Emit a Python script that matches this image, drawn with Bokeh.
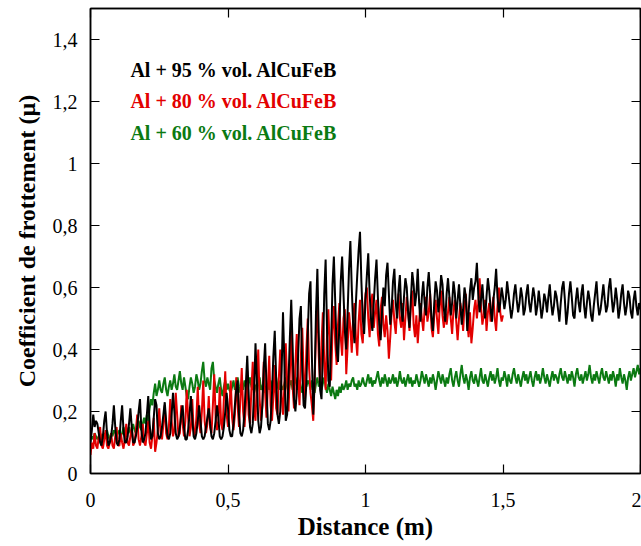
import numpy as np
from bokeh.plotting import figure
from bokeh.models import Range1d, FixedTicker, LinearAxis, Label
from bokeh.embed import file_html
from bokeh.resources import INLINE

# ---- data ----
step = 0.005  # sampling step of distance (m)

# Al + 95 % vol. AlCuFeB (black), 0 .. 2 m
black_al95 = [
    0.10,0.14,0.19,0.15,0.17,0.16,0.13,0.10,0.09,0.12,0.17,0.20,0.13,0.09,0.10,0.12,0.16,0.22,0.15,0.10,
    0.09,0.11,0.17,0.22,0.14,0.10,0.10,0.12,0.16,0.21,0.15,0.10,0.10,0.12,0.15,0.20,0.24,0.14,0.10,0.11,
    0.13,0.19,0.25,0.16,0.11,0.12,0.18,0.24,0.22,0.13,0.11,0.12,0.15,0.19,0.23,0.17,0.12,0.11,0.13,0.19,
    0.26,0.20,0.13,0.11,0.12,0.15,0.19,0.22,0.15,0.11,0.11,0.14,0.19,0.25,0.18,0.12,0.11,0.13,0.17,0.22,
    0.17,0.12,0.11,0.12,0.15,0.18,0.21,0.16,0.12,0.11,0.13,0.17,0.22,0.18,0.12,0.11,0.12,0.15,0.20,0.26,
    0.21,0.14,0.12,0.12,0.16,0.22,0.27,0.30,0.19,0.13,0.12,0.14,0.20,0.29,0.38,0.26,0.15,0.13,0.16,0.27,
    0.42,0.30,0.17,0.13,0.15,0.22,0.34,0.42,0.28,0.16,0.14,0.17,0.26,0.38,0.46,0.31,0.19,0.16,0.20,0.33,
    0.52,0.36,0.17,0.19,0.30,0.44,0.56,0.41,0.24,0.20,0.26,0.38,0.50,0.54,0.33,0.22,0.21,0.29,0.45,0.58,
    0.62,0.38,0.19,0.30,0.52,0.66,0.45,0.27,0.24,0.38,0.58,0.69,0.47,0.30,0.28,0.42,0.61,0.70,0.55,0.40,
    0.36,0.48,0.62,0.70,0.58,0.46,0.40,0.52,0.66,0.75,0.60,0.48,0.42,0.55,0.64,0.72,0.78,0.62,0.50,0.45,
    0.56,0.64,0.71,0.58,0.50,0.46,0.55,0.63,0.69,0.57,0.48,0.43,0.52,0.60,0.54,0.64,0.68,0.58,0.48,0.53,
    0.62,0.66,0.55,0.50,0.59,0.64,0.53,0.49,0.57,0.63,0.60,0.52,0.47,0.56,0.65,0.61,0.54,0.58,0.66,0.55,
    0.49,0.57,0.62,0.55,0.51,0.60,0.65,0.58,0.50,0.46,0.55,0.62,0.59,0.52,0.57,0.64,0.61,0.53,0.49,0.58,
    0.63,0.57,0.51,0.55,0.62,0.58,0.50,0.56,0.61,0.54,0.48,0.53,0.60,0.57,0.46,0.52,0.59,0.63,0.56,0.60,
    0.62,0.68,0.58,0.52,0.56,0.61,0.54,0.50,0.57,0.63,0.59,0.53,0.49,0.56,0.60,0.66,0.57,0.52,0.55,0.60,
    0.57,0.53,0.56,0.62,0.58,0.54,0.50,0.53,0.58,0.61,0.56,0.52,0.55,0.60,0.57,0.51,0.53,0.58,0.61,0.55,
    0.52,0.56,0.60,0.57,0.51,0.54,0.59,0.55,0.50,0.53,0.58,0.56,0.52,0.57,0.61,0.55,0.51,0.54,0.59,0.57,
    0.53,0.49,0.55,0.60,0.62,0.56,0.48,0.52,0.58,0.62,0.57,0.51,0.50,0.56,0.60,0.55,0.52,0.58,0.61,0.54,
    0.50,0.55,0.59,0.56,0.51,0.49,0.54,0.58,0.62,0.55,0.51,0.53,0.57,0.61,0.56,0.52,0.54,0.60,0.63,0.57,
    0.52,0.55,0.60,0.56,0.50,0.53,0.58,0.61,0.55,0.51,0.54,0.59,0.57,0.52,0.50,0.56,0.59,0.54,0.51,0.55,
    0.53,
]

# Al + 80 % vol. AlCuFeB (red), 0 .. 1.5 m
red_al80 = [
    0.06,0.10,0.08,0.13,0.09,0.08,0.12,0.15,0.09,0.08,0.11,0.14,0.09,0.08,0.10,0.13,0.09,0.08,0.12,0.15,
    0.09,0.09,0.13,0.10,0.08,0.11,0.16,0.10,0.09,0.12,0.15,0.09,0.10,0.14,0.19,0.11,0.09,0.12,0.16,0.10,
    0.09,0.13,0.17,0.10,0.08,0.12,0.18,0.07,0.10,0.14,0.21,0.13,0.11,0.16,0.22,0.13,0.11,0.15,0.24,0.17,
    0.12,0.14,0.26,0.19,0.12,0.13,0.22,0.16,0.12,0.17,0.27,0.18,0.12,0.15,0.24,0.14,0.12,0.18,0.28,0.16,
    0.13,0.20,0.30,0.17,0.13,0.16,0.25,0.15,0.13,0.22,0.32,0.18,0.14,0.17,0.28,0.16,0.14,0.24,0.33,0.19,
    0.15,0.21,0.30,0.18,0.14,0.19,0.31,0.22,0.15,0.24,0.34,0.20,0.15,0.22,0.33,0.19,0.16,0.27,0.36,0.21,
    0.17,0.30,0.40,0.24,0.17,0.22,0.36,0.26,0.18,0.28,0.38,0.22,0.17,0.25,0.35,0.21,0.19,0.31,0.40,0.25,
    0.19,0.28,0.42,0.30,0.20,0.33,0.46,0.28,0.21,0.35,0.45,0.30,0.22,0.38,0.47,0.32,0.24,0.40,0.50,0.34,
    0.26,0.22,0.17,0.30,0.45,0.54,0.38,0.28,0.42,0.52,0.36,0.27,0.44,0.53,0.40,0.30,0.46,0.54,0.42,0.35,
    0.48,0.55,0.44,0.38,0.50,0.53,0.32,0.41,0.52,0.47,0.39,0.50,0.55,0.44,0.38,0.49,0.56,0.45,0.42,0.52,
    0.58,0.60,0.50,0.44,0.55,0.58,0.47,0.52,0.56,0.45,0.41,0.53,0.57,0.48,0.44,0.51,0.46,0.37,0.44,0.52,
    0.56,0.49,0.45,0.53,0.58,0.50,0.47,0.55,0.43,0.50,0.57,0.52,0.46,0.54,0.59,0.48,0.44,0.51,0.42,0.49,
    0.55,0.50,0.46,0.53,0.57,0.49,0.52,0.58,0.47,0.44,0.51,0.56,0.50,0.45,0.54,0.59,0.51,0.47,0.53,0.48,
    0.52,0.57,0.50,0.45,0.53,0.56,0.49,0.43,0.50,0.55,0.52,0.46,0.54,0.58,0.49,0.44,0.52,0.42,0.47,0.53,
    0.56,0.50,0.55,0.63,0.54,0.48,0.51,0.56,0.46,0.52,0.55,0.49,0.53,0.57,0.50,0.46,0.54,0.60,0.52,0.49,
    0.51,
]

# Al + 60 % vol. AlCuFeB (green), 0 .. 2 m
green_al60 = [
    0.11,0.12,0.11,0.13,0.12,0.11,0.12,0.13,0.12,0.11,0.13,0.12,0.14,0.12,0.11,0.13,0.12,0.14,0.13,0.12,
    0.13,0.14,0.12,0.13,0.15,0.13,0.12,0.14,0.15,0.13,0.14,0.16,0.14,0.13,0.15,0.17,0.15,0.14,0.16,0.18,
    0.16,0.19,0.17,0.21,0.24,0.22,0.26,0.29,0.25,0.27,0.30,0.27,0.26,0.29,0.31,0.27,0.25,0.28,0.30,0.27,
    0.29,0.32,0.28,0.27,0.30,0.33,0.29,0.27,0.31,0.28,0.25,0.24,0.28,0.31,0.29,0.26,0.28,0.32,0.30,0.27,
    0.29,0.33,0.36,0.30,0.28,0.31,0.29,0.27,0.34,0.36,0.30,0.28,0.26,0.29,0.31,0.27,0.25,0.28,0.30,0.27,
    0.29,0.27,0.26,0.28,0.30,0.27,0.29,0.31,0.28,0.26,0.29,0.27,0.30,0.28,0.26,0.29,0.31,0.28,0.27,0.29,
    0.28,0.26,0.29,0.31,0.27,0.28,0.30,0.26,0.28,0.29,0.27,0.30,0.28,0.26,0.29,0.31,0.28,0.27,0.30,0.28,
    0.27,0.29,0.31,0.28,0.26,0.29,0.30,0.27,0.28,0.31,0.29,0.27,0.30,0.28,0.26,0.29,0.31,0.28,0.30,0.29,
    0.27,0.30,0.28,0.26,0.29,0.31,0.28,0.30,0.27,0.29,0.31,0.28,0.26,0.29,0.27,0.25,0.28,0.26,0.24,0.27,
    0.25,0.28,0.26,0.29,0.27,0.28,0.30,0.27,0.29,0.28,0.30,0.31,0.28,0.29,0.27,0.30,0.28,0.29,0.31,0.29,
    0.28,0.30,0.32,0.29,0.31,0.28,0.30,0.29,0.31,0.33,0.30,0.28,0.31,0.29,0.32,0.30,0.28,0.31,0.29,0.30,
    0.32,0.29,0.31,0.28,0.30,0.33,0.30,0.29,0.31,0.28,0.30,0.32,0.29,0.31,0.28,0.30,0.29,0.32,0.30,0.28,
    0.30,0.33,0.31,0.29,0.32,0.30,0.28,0.31,0.29,0.32,0.30,0.27,0.30,0.33,0.31,0.29,0.32,0.30,0.28,0.31,
    0.29,0.32,0.34,0.30,0.28,0.31,0.33,0.30,0.28,0.32,0.35,0.31,0.29,0.32,0.30,0.27,0.31,0.33,0.30,0.29,
    0.32,0.30,0.28,0.31,0.34,0.30,0.29,0.32,0.30,0.28,0.31,0.33,0.30,0.32,0.29,0.31,0.34,0.30,0.28,0.31,
    0.30,0.33,0.31,0.28,0.32,0.30,0.29,0.32,0.34,0.31,0.29,0.32,0.30,0.28,0.31,0.33,0.30,0.32,0.29,0.31,
    0.33,0.30,0.28,0.31,0.33,0.30,0.32,0.29,0.31,0.34,0.31,0.29,0.32,0.30,0.28,0.31,0.33,0.30,0.32,0.31,
    0.29,0.32,0.34,0.31,0.30,0.33,0.31,0.29,0.32,0.30,0.33,0.31,0.28,0.32,0.34,0.31,0.30,0.32,0.29,0.31,
    0.33,0.30,0.32,0.35,0.31,0.29,0.32,0.30,0.33,0.31,0.29,0.32,0.34,0.31,0.30,0.33,0.31,0.29,0.32,0.30,
    0.33,0.31,0.28,0.32,0.30,0.34,0.31,0.29,0.32,0.30,0.27,0.31,0.33,0.30,0.32,0.34,0.31,0.33,0.35,0.32,
    0.34,
]

series_labels = ["Al + 95 % vol. AlCuFeB", "Al + 80 % vol. AlCuFeB", "Al + 60 % vol. AlCuFeB"]
series_colors = ["#000000", "#e30000", "#0b7a12"]

x_ticks = [0, 0.5, 1, 1.5, 2]
x_tick_labels = ["0", "0,5", "1", "1,5", "2"]
y_ticks = [0, 0.2, 0.4, 0.6, 0.8, 1.0, 1.2, 1.4]
y_tick_labels = ["0", "0,2", "0,4", "0,6", "0,8", "1", "1,2", "1,4"]

x_label = "Distance (m)"
y_label = "Coefficient de frottement (\u00b5)"

# ---- figure ----
FONT = "Liberation Serif"
p = figure(width=641, height=546, output_backend="svg", toolbar_location=None,
           x_range=Range1d(0, 2), y_range=Range1d(0, 1.5),
           min_border_left=90, min_border_right=1, min_border_top=8, min_border_bottom=73)
p.background_fill_color = "white"
p.border_fill_color = "white"
p.outline_line_color = "black"
p.outline_line_width = 1.5
p.xgrid.visible = False
p.ygrid.visible = False

x_black = np.arange(len(black_al95)) * step
x_red = np.arange(len(red_al80)) * step
x_green = np.arange(len(green_al60)) * step

p.line(x_green, green_al60, color=series_colors[2], line_width=2)
p.line(x_red, red_al80, color=series_colors[1], line_width=2)
p.line(x_black, black_al95, color=series_colors[0], line_width=2)

def style_axis(ax):
    ax.major_tick_in = 9
    ax.major_tick_out = 0
    ax.minor_tick_line_color = None
    ax.axis_line_color = "black"
    ax.axis_line_width = 1.5
    ax.major_tick_line_width = 1.2
    ax.major_label_text_font = FONT
    ax.major_label_text_font_size = "20px"
    ax.major_label_text_color = "black"

xa = p.xaxis[0]
xa.ticker = FixedTicker(ticks=x_ticks)
xa.major_label_overrides = {t: l for t, l in zip(x_ticks, x_tick_labels)}
style_axis(xa)
xa.major_label_standoff = 19
xa.axis_label = x_label
xa.axis_label_text_font = FONT
xa.axis_label_text_font_style = "bold"
xa.axis_label_text_font_size = "25px"
xa.axis_label_text_color = "black"
xa.axis_label_standoff = 3

ya = p.yaxis[0]
ya.ticker = FixedTicker(ticks=y_ticks)
ya.major_label_overrides = {t: l for t, l in zip(y_ticks, y_tick_labels)}
style_axis(ya)
ya.major_label_standoff = 13
ya.axis_label = y_label
ya.axis_label_text_font = FONT
ya.axis_label_text_font_style = "bold"
ya.axis_label_text_font_size = "24px"
ya.axis_label_text_color = "black"
ya.axis_label_standoff = 10

top = LinearAxis(ticker=FixedTicker(ticks=x_ticks))
style_axis(top)
top.major_label_overrides = {t: "" for t in x_ticks}
top.major_label_standoff = 0
p.add_layout(top, "above")
right = LinearAxis(ticker=FixedTicker(ticks=y_ticks))
style_axis(right)
right.major_label_overrides = {t: "" for t in y_ticks}
right.major_label_standoff = 0
p.add_layout(right, "right")

for lbl, col, yy in zip(series_labels, series_colors, [1.303, 1.203, 1.097]):
    p.add_layout(Label(x=0.145, y=yy, text=lbl, text_color=col, text_font=FONT,
                       text_font_style="bold", text_font_size="20px",
                       text_baseline="middle", text_align="left"))

open("out.html", "w").write(file_html(p, INLINE))
